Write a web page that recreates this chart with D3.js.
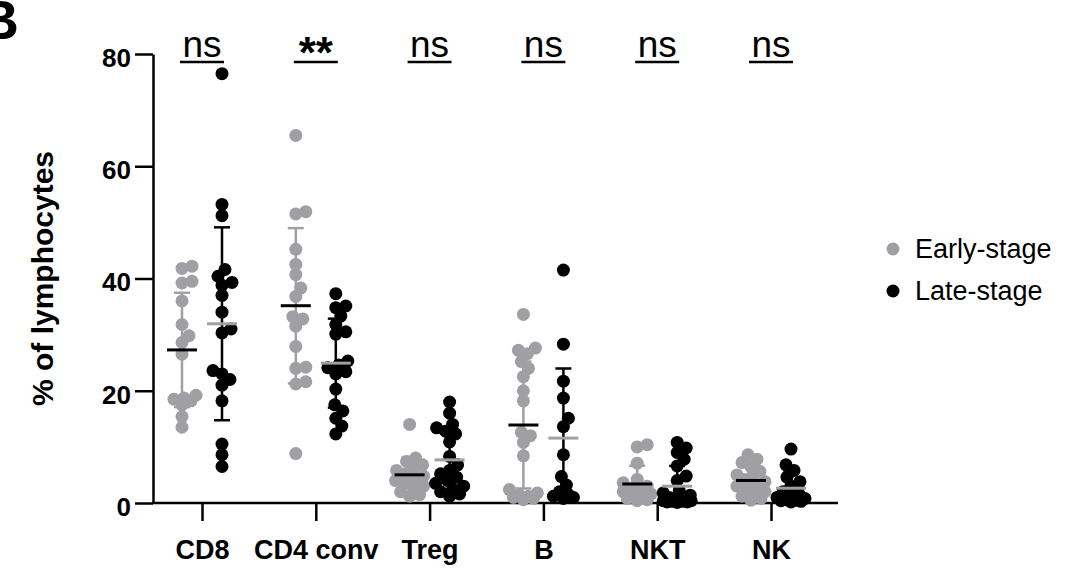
<!DOCTYPE html>
<html><head><meta charset="utf-8">
<script src="https://cdn.jsdelivr.net/npm/d3@7"></script>
<style>
body{margin:0;background:#fff}
svg{display:block}
text{font-family:"Liberation Sans",Arial,Helvetica,sans-serif}
</style>
</head><body>
<svg id="chart" width="1080" height="574"></svg>
<script>
// ---------- data ----------
const categories = ["CD8", "CD4 conv", "Treg", "B", "NKT", "NK"];
const significance = ["ns", "**", "ns", "ns", "ns", "ns"];
const seriesNames = ["Early-stage", "Late-stage"];
const yTicks = [0, 20, 40, 60, 80];

const earlyCD8 = [42.2, 41.8, 39.5, 39.2, 36.0, 31.8, 29.8, 28.6, 26.5, 19.2, 18.7, 18.5, 18.2, 17.5, 15.4, 13.5];
const lateCD8 = [76.5, 53.2, 51.2, 41.6, 40.4, 39.3, 38.8, 37.0, 34.0, 31.0, 30.3, 23.6, 23.0, 22.0, 21.0, 18.2, 10.5, 8.6, 6.5];
const earlyCD4conv = [65.5, 51.9, 51.5, 45.2, 42.5, 40.7, 38.3, 36.8, 33.2, 32.8, 31.5, 27.9, 24.2, 24.0, 21.6, 21.2, 8.8];
const lateCD4conv = [37.3, 35.1, 34.8, 33.3, 31.8, 30.5, 30.1, 25.3, 24.6, 24.1, 23.4, 23.0, 20.3, 17.5, 16.4, 15.1, 13.7, 12.3];
const earlyTreg = [14.0, 8.0, 7.4, 6.8, 6.2, 5.8, 5.2, 4.8, 4.4, 4.0, 3.5, 3.0, 2.5, 2.0, 1.5, 1.2];
const lateTreg = [18.0, 16.0, 14.0, 13.4, 12.8, 12.3, 10.9, 8.3, 6.8, 5.8, 5.2, 4.6, 4.0, 3.5, 3.0, 2.5, 2.0, 1.6, 1.2];
const earlyB = [33.6, 27.6, 27.2, 26.6, 25.2, 24.0, 22.5, 20.0, 18.2, 12.6, 12.0, 10.8, 8.4, 2.4, 1.8, 1.4, 1.2, 1.0, 0.8, 0.6];
const lateB = [41.5, 28.3, 21.7, 18.7, 15.1, 13.6, 8.6, 4.7, 3.2, 2.0, 1.5, 1.2, 1.0, 0.8];
const earlyNKT = [10.4, 10.0, 7.1, 4.2, 3.6, 3.0, 2.6, 2.2, 2.0, 1.6, 1.3, 1.0, 0.8, 0.6, 0.4];
const lateNKT = [10.8, 9.8, 9.0, 7.8, 6.6, 4.8, 4.0, 2.2, 1.8, 1.4, 1.0, 0.8, 0.6, 0.5, 0.4, 0.4, 0.3, 0.3, 0.2, 0.2, 0.1];
const earlyNK = [8.6, 7.8, 7.2, 6.4, 5.6, 5.0, 4.6, 4.2, 3.8, 3.4, 3.0, 2.6, 2.0, 1.6, 1.2, 0.8, 0.5];
const lateNK = [9.6, 6.8, 5.8, 4.6, 3.8, 3.0, 2.0, 1.6, 1.2, 1.0, 0.8, 0.6, 0.5, 0.4, 0.3, 0.2];

const earlyValues = [earlyCD8, earlyCD4conv, earlyTreg, earlyB, earlyNKT, earlyNK];
const lateValues = [lateCD8, lateCD4conv, lateTreg, lateB, lateNKT, lateNK];

// ---------- styling ----------
const GRAY = "#a0a0a4";
const BLACK = "#000";
const R = 6.5;
const FONT = '"Liberation Sans",Arial,sans-serif';

const svg = d3.select("#chart");
const x = d3.scalePoint().domain(categories).range([202, 771]);
const y = d3.scaleLinear().domain([0, 80]).range([503, 54]);
const groupOffset = d3.scalePoint().domain(seriesNames).range([-20, 20]);

// panel letter
svg.append("text").attr("x", 19).attr("y", 39).attr("text-anchor", "end")
  .attr("font-size", 56).attr("font-weight", "bold").text("B");

// y axis
const yAxis = svg.append("g").attr("transform", "translate(153,0)")
  .call(d3.axisLeft(y).tickValues(yTicks).tickSize(18).tickPadding(4).tickSizeOuter(0));
yAxis.selectAll("path,line").attr("stroke", BLACK).attr("stroke-width", 2.5);
yAxis.selectAll("text").attr("font-size", 26).attr("font-weight", "bold")
  .attr("fill", BLACK).attr("font-family", FONT).attr("dy", "0.48em");

svg.append("text")
  .attr("transform", `translate(42,${(y(0) + y(80)) / 2}) rotate(-90)`)
  .attr("text-anchor", "middle").attr("dominant-baseline", "central")
  .attr("font-size", 30).attr("font-weight", "bold").text("% of lymphocytes");

// x axis
const xAxis = svg.append("g").attr("transform", "translate(0,503)")
  .call(d3.axisBottom(x).tickSize(18).tickPadding(19).tickSizeOuter(0));
xAxis.select(".domain").remove();
xAxis.selectAll("line").attr("stroke", BLACK).attr("stroke-width", 2.5);
xAxis.selectAll("text").attr("font-size", 27).attr("font-weight", "bold")
  .attr("fill", BLACK).attr("font-family", FONT);
svg.append("line").attr("x1", 152).attr("x2", 838).attr("y1", 503).attr("y2", 503)
  .attr("stroke", BLACK).attr("stroke-width", 2.5);

// beeswarm placement
function swarm(values, cx) {
  const pts = values.map(v => ({ v, py: y(v) })).sort((a, b) => a.v - b.v);
  const placed = [];
  const minD = 9.5, maxOff = 14;
  const cands = [0];
  for (let k = 1; k <= maxOff; k++) cands.push(k, -k);
  pts.forEach(p => {
    let best = 0, bestScore = -1;
    for (const dx of cands) {
      let md = Infinity;
      for (const q of placed) {
        const d = Math.hypot(q.px - (cx + dx), q.py - p.py);
        if (d < md) md = d;
      }
      if (md >= minD) { best = dx; bestScore = Infinity; break; }
      if (md > bestScore) { bestScore = md; best = dx; }
    }
    p.px = cx + best;
    placed.push(p);
  });
  return placed;
}

const series = [
  { name: seriesNames[0], data: earlyValues, fill: GRAY, meanColor: BLACK, errColor: GRAY },
  { name: seriesNames[1], data: lateValues, fill: BLACK, meanColor: GRAY, errColor: BLACK }
];

// points
series.forEach(s => {
  categories.forEach((c, i) => {
    const cx = x(c) + groupOffset(s.name);
    const pts = swarm(s.data[i], cx);
    svg.append("g").selectAll("circle").data(pts).join("circle")
      .attr("cx", d => d.px).attr("cy", d => d.py).attr("r", R).attr("fill", s.fill);
  });
});

// error bars (mean ± SD) and mean lines
series.forEach(s => {
  categories.forEach((c, i) => {
    const cx = x(c) + groupOffset(s.name);
    const m = d3.mean(s.data[i]);
    const sd = d3.deviation(s.data[i]);
    const lo = Math.max(0, m - sd), hi = Math.min(80, m + sd);
    const g = svg.append("g");
    g.append("line").attr("x1", cx).attr("x2", cx).attr("y1", y(lo)).attr("y2", y(hi))
      .attr("stroke", s.errColor).attr("stroke-width", 2.5);
    [hi, lo].forEach(v => {
      if (v <= 0) return;
      g.append("line").attr("x1", cx - 8).attr("x2", cx + 8).attr("y1", y(v)).attr("y2", y(v))
        .attr("stroke", s.errColor).attr("stroke-width", 2.5);
    });
    g.append("line").attr("x1", cx - 15).attr("x2", cx + 15).attr("y1", y(m)).attr("y2", y(m))
      .attr("stroke", s.meanColor).attr("stroke-width", 3);
  });
});

// significance labels
categories.forEach((c, i) => {
  const star = significance[i] === "**";
  svg.append("text").attr("x", x(c)).attr("y", star ? 68 : 57)
    .attr("text-anchor", "middle").attr("font-size", star ? 44 : 37)
    .attr("font-weight", star ? "bold" : "normal")
    .text(significance[i]);
  svg.append("line").attr("x1", x(c) - 22).attr("x2", x(c) + 22).attr("y1", 62).attr("y2", 62)
    .attr("stroke", BLACK).attr("stroke-width", 2.5);
});

// legend
const legend = svg.append("g");
series.forEach((s, i) => {
  legend.append("circle").attr("cx", 893).attr("cy", 249 + i * 42).attr("r", R).attr("fill", s.fill);
  legend.append("text").attr("x", 915).attr("y", 249 + i * 42).attr("dy", "0.35em")
    .attr("font-size", 27).text(s.name);
});
</script>
</body></html>
